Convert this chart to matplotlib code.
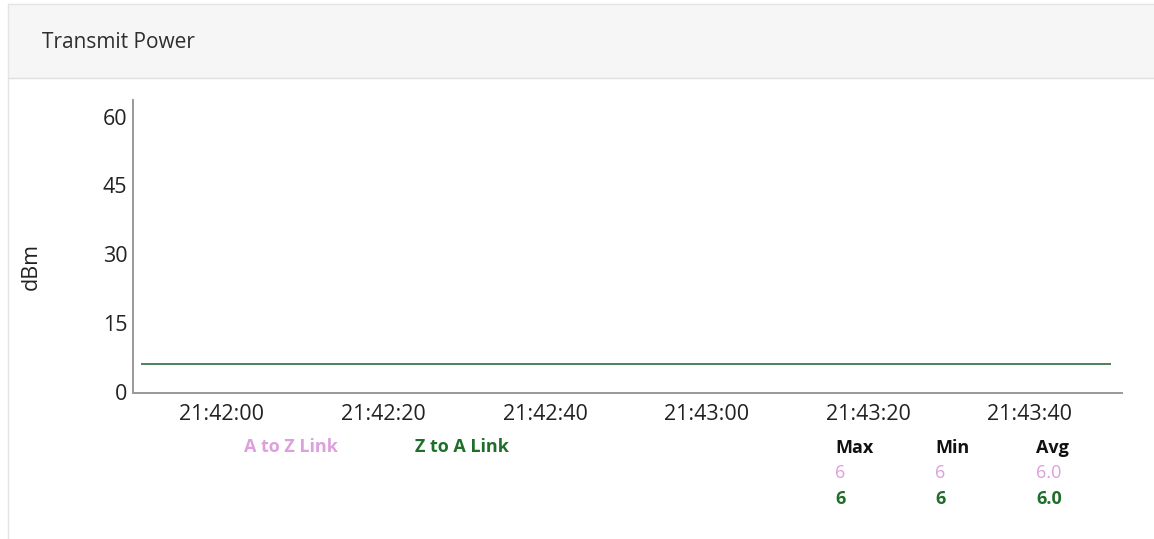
import matplotlib
matplotlib.use("Agg")
import matplotlib.pyplot as plt
import matplotlib.dates as mdates
from matplotlib.patches import Rectangle
from matplotlib.lines import Line2D
import pandas as pd

plt.rcParams['font.family'] = ['Open Sans', 'DejaVu Sans']

# Sample timestamps and transmit power readings (dBm)
times = ["21:41:50", "21:42:00", "21:42:10", "21:42:20", "21:42:30", "21:42:40", "21:42:50",
         "21:43:00", "21:43:10", "21:43:20", "21:43:30", "21:43:40", "21:43:50"]
a_to_z = [6, 6, 6, 6, 6, 6, 6, 6, 6, 6, 6, 6, 6]
z_to_a = [6, 6, 6, 6, 6, 6, 6, 6, 6, 6, 6, 6, 6]
y_ticks = [0, 15, 30, 45, 60]
x_ticks = ["21:42:00", "21:42:20", "21:42:40", "21:43:00", "21:43:20", "21:43:40"]
series_names = ["A to Z Link", "Z to A Link"]
series_colors = ["#dd9fdd", "#1f6e2a"]
line_colors = ["#dd9fdd", "#4f8456"]

W, H = 1154, 539
fig = plt.figure(figsize=(W / 100, H / 100), dpi=100)
fig.patch.set_facecolor("white")


def px(x, y):
    """Convert pixel coordinates (origin top-left) to figure fraction."""
    return x / W, 1 - y / H


# Panel frame and header band
fig.patches.append(Rectangle(px(8, 78), (W - 8) / W, 74 / H, transform=fig.transFigure,
                             facecolor="#f6f6f6", edgecolor="none", zorder=0))
fig.lines.append(Line2D([8 / W, 1], [1 - 4 / H] * 2, transform=fig.transFigure,
                        color="#e4e4e4", lw=1))
fig.lines.append(Line2D([8 / W, 1], [1 - 78 / H] * 2, transform=fig.transFigure,
                        color="#e0e0e0", lw=1))
fig.lines.append(Line2D([8 / W] * 2, [1 - 4 / H, 0], transform=fig.transFigure,
                        color="#e4e4e4", lw=1))
fig.text(*px(42, 42), "Transmit Power", fontsize=15, color="#2e2e2e",
         ha="left", va="center")

# Plot area
left, bottom = px(133, 393)
_, top = px(0, 100)
ax_w = (1122 - 133) / W
ax = fig.add_axes([left, bottom, ax_w, top - bottom])
ax.set_facecolor("white")

base = "2024-01-01 "
t = pd.to_datetime([base + s for s in times])
ax.plot(t, a_to_z, color=line_colors[0], lw=1.4, solid_capstyle="butt")
ax.plot(t, z_to_a, color=line_colors[1], lw=1.4, solid_capstyle="butt")

ax.set_xlim(pd.Timestamp(base + "21:41:49"), pd.Timestamp(base + "21:43:51.4"))
ax.set_ylim(-0.3, 63.6)
ax.set_yticks(y_ticks)
ax.set_xticks(pd.to_datetime([base + s for s in x_ticks]))
ax.xaxis.set_major_formatter(mdates.DateFormatter("%H:%M:%S"))
ax.tick_params(axis="both", length=0, labelsize=15.5, colors="#222222")
ax.tick_params(axis="x", pad=8)
ax.tick_params(axis="y", pad=4)
for side in ("top", "right"):
    ax.spines[side].set_visible(False)
for side in ("left", "bottom"):
    ax.spines[side].set_color("#999999")
    ax.spines[side].set_linewidth(1.4)
ax.set_ylabel("dBm", fontsize=15.5, color="#222222")
ax.yaxis.set_label_coords((42 - 133) / (1122 - 133), (393 - 267) / (393 - 100))

# Legend entries
fig.text(*px(291, 447), series_names[0], fontsize=13, fontweight="bold",
         color=series_colors[0], ha="center", va="center")
fig.text(*px(462, 447), series_names[1], fontsize=13, fontweight="bold",
         color=series_colors[1], ha="center", va="center")

# Summary statistics per series
cols_x = [835, 935, 1036]
for x, head in zip(cols_x, ["Max", "Min", "Avg"]):
    fig.text(*px(x, 448), head, fontsize=13, fontweight="bold", color="#111111",
             ha="left", va="center")
for row_y, vals, col, weight in [(473, a_to_z, series_colors[0], "normal"),
                                 (499, z_to_a, series_colors[1], "bold")]:
    stats = [f"{max(vals)}", f"{min(vals)}", f"{sum(vals) / len(vals):.1f}"]
    for x, s in zip(cols_x, stats):
        fig.text(*px(x, row_y), s, fontsize=13, fontweight=weight, color=col,
                 ha="left", va="center")

fig.savefig("out.png", dpi=100, facecolor=fig.get_facecolor())
